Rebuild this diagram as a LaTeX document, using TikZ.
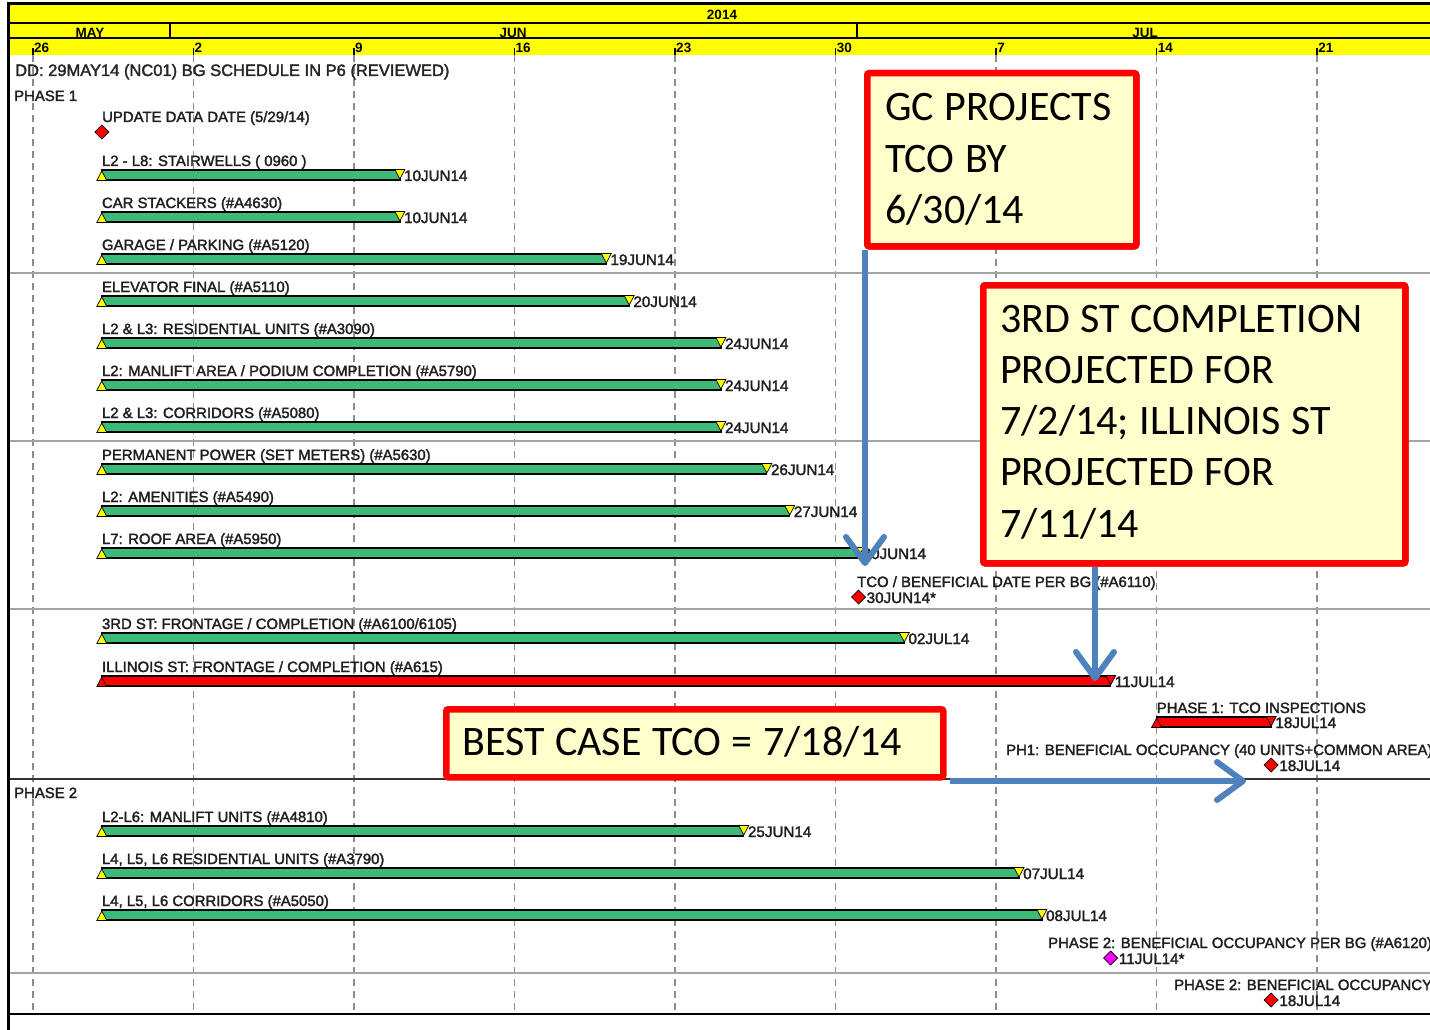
\documentclass[tikz,border=0pt]{standalone}
\usepackage{fontspec}
\setmainfont{Liberation Sans}
\newfontfamily\chartfont[FakeBold=2]{Liberation Sans}
\newfontfamily\calfont{Carlito}
\newcommand\calsp{\spaceskip=0.25em\relax}
\usetikzlibrary{arrows.meta,calc}
\definecolor{barg}{RGB}{60,186,120}
\definecolor{hdr}{RGB}{255,255,0}
\definecolor{gridg}{RGB}{140,140,140}
\definecolor{sepg}{RGB}{165,165,165}
\definecolor{calfill}{RGB}{255,255,204}
\definecolor{calred}{RGB}{255,0,0}
\definecolor{arrblue}{RGB}{79,129,189}
\definecolor{dmag}{RGB}{255,0,255}
\tikzset{
  lbl/.style={anchor=base west, inner sep=0pt, text=black!88, font=\chartfont\fontsize{14.9}{17}\selectfont},
  dlbl/.style={anchor=base west, inner sep=0pt, text=black!88, font=\chartfont\fontsize{15.2}{17}\selectfont},
  ttl/.style={anchor=base west, inner sep=0pt, text=black!85, font=\chartfont\fontsize{16.5}{18}\selectfont},
  hlbl/.style={inner sep=0pt, font=\bfseries\fontsize{13.5}{16}\selectfont},
  barsty/.style={draw=black, line width=1.2pt},
  mk/.style={draw=black, line width=0.7pt},
  gridl/.style={gridg, line width=1.2pt, dash pattern=on 7pt off 5pt},
  sepl/.style={sepg, line width=1.6pt},
  callout/.style={draw=calred, fill=calfill, line width=6.5pt, rounded corners=2pt, inner sep=0pt, anchor=north west},
  calltext/.style={anchor=base west, inner sep=0pt, align=left, text width=600pt, font=\calfont\fontsize{42}{51.3}\selectfont},
  bluearrow/.style={draw=arrblue, line width=6pt, -{Straight Barb[length=26pt, width=38pt, line width=6pt, round]}},
}
\newcommand\ganttbar[8]{%
  \node[lbl] (#1-l) at (#3,#2-9) {#5};
  \draw[barsty,fill=#7] (#3,#2-5) rectangle (#4,#2+5);
  \draw[mk,fill=#8] (#3-5,#2+5.5) -- (#3+5,#2+5.5) -- (#3,#2-4) -- cycle;
  \draw[mk,fill=#8] (#4-5,#2-5.5) -- (#4+5,#2-5.5) -- (#4,#2+4) -- cycle;
  \node[dlbl] (#1-d) at (#4+4,#2+6) {#6};
}
\newcommand\mstone[7]{%
  \node[lbl] (#1-l) at (#4,#3-10) {#5};
  \draw[mk,fill=#7] (#2-7,#3) -- (#2,#3-7) -- (#2+7,#3) -- (#2,#3+7) -- cycle;
  \node[dlbl] (#1-d) at (#2+8,#3+6) {#6};
}
\begin{document}
\begin{tikzpicture}[x=1pt,y=-1pt]
\useasboundingbox (0,0) rectangle (1430,1030);
\clip (0,0) rectangle (1430,1030);
\fill[white] (0,0) rectangle (1430,1030);
% header
\fill[hdr] (8,3) rectangle (1430,55);
\draw[black,line width=1.3pt] (8,23) -- (1430,23);
\draw[black,line width=1.3pt] (8,38) -- (1430,38);
\draw[black,line width=1.3pt] (170,23) -- (170,38);
\draw[black,line width=1.3pt] (857,23) -- (857,38);
\node[hlbl,anchor=base] (y2014) at (722,20) {2014};
\node[hlbl,anchor=base] (mmay) at (90,37.5) {MAY};
\node[hlbl,anchor=base] (mjun) at (513,37.5) {JUN};
\node[hlbl,anchor=base] (mjul) at (1145,37.5) {JUL};
\foreach \k/\d in {0/26,1/2,2/9,3/16,4/23,5/30,6/7,7/14,8/21}{
  \pgfmathsetmacro\xx{33+160.51*\k}
  \draw[gridl] (\xx,55) -- (\xx,1014);
  \draw[black,line width=1.3pt] (\xx,48) -- (\xx,55);
  \node[hlbl,anchor=base west] (day\k) at (\xx+1,53) {\d};
}
% separators
\foreach \yy in {273,441,609,973}{\draw[sepl] (8,\yy) -- (1430,\yy);}
\draw[black!80,line width=1.6pt] (8,779) -- (1430,779);
\draw[black,line width=2pt] (8,1014) -- (1430,1014);
% borders
\draw[black,line width=2.5pt] (8,3.5) -- (1430,3.5);
\draw[black,line width=3.5pt] (8.5,2) -- (8.5,1030);
% titles
\node[ttl] (title) at (15,76) {DD: 29MAY14 (NC01) BG SCHEDULE IN P6 (REVIEWED)};
\node[lbl] (ph1) at (14,101) {PHASE 1};
\node[lbl] (ph2) at (14,798) {PHASE 2};
% milestones and bars
\mstone{m0}{101.8}{132}{102}{UPDATE DATA DATE (5/29/14)}{}{red}
\ganttbar{s1}{175}{101.8}{399.9}{L2 - L8: STAIRWELLS ( 0960 )}{10JUN14}{barg}{hdr}
\ganttbar{s2}{217}{101.8}{399.9}{CAR STACKERS (\#A4630)}{10JUN14}{barg}{hdr}
\ganttbar{s3}{259}{101.8}{606.3}{GARAGE / PARKING (\#A5120)}{19JUN14}{barg}{hdr}
\ganttbar{s4}{301}{101.8}{629.2}{ELEVATOR FINAL (\#A5110)}{20JUN14}{barg}{hdr}
\ganttbar{s5}{343}{101.8}{720.9}{L2 \& L3: RESIDENTIAL UNITS (\#A3090)}{24JUN14}{barg}{hdr}
\ganttbar{s6}{385}{101.8}{720.9}{L2: MANLIFT AREA / PODIUM COMPLETION (\#A5790)}{24JUN14}{barg}{hdr}
\ganttbar{s7}{427}{101.8}{720.9}{L2 \& L3: CORRIDORS (\#A5080)}{24JUN14}{barg}{hdr}
\ganttbar{s8}{469}{101.8}{766.8}{PERMANENT POWER (SET METERS) (\#A5630)}{26JUN14}{barg}{hdr}
\ganttbar{s9}{511}{101.8}{789.7}{L2: AMENITIES (\#A5490)}{27JUN14}{barg}{hdr}
\ganttbar{s10}{553}{101.8}{858.5}{L7: ROOF AREA (\#A5950)}{30JUN14}{barg}{hdr}
\mstone{m1}{858.5}{597}{857}{TCO / BENEFICIAL DATE PER BG (\#A6110)}{30JUN14*}{red}
\ganttbar{s11}{638}{101.8}{904.3}{3RD ST: FRONTAGE / COMPLETION (\#A6100/6105)}{02JUL14}{barg}{hdr}
\ganttbar{s12}{681}{101.8}{1110.7}{ILLINOIS ST: FRONTAGE / COMPLETION (\#A615)}{11JUL14}{red}{red}
\ganttbar{s13}{722}{1156.6}{1271.2}{PHASE 1: TCO INSPECTIONS}{18JUL14}{red}{red}
\mstone{m2}{1271.2}{765}{1006}{PH1: BENEFICIAL OCCUPANCY (40 UNITS+COMMON AREA)}{18JUL14}{red}
\ganttbar{p1}{831}{101.8}{743.8}{L2-L6: MANLIFT UNITS (\#A4810)}{25JUN14}{barg}{hdr}
\ganttbar{p2}{873}{101.8}{1019.0}{L4, L5, L6 RESIDENTIAL UNITS (\#A3790)}{07JUL14}{barg}{hdr}
\ganttbar{p3}{915}{101.8}{1041.9}{L4, L5, L6 CORRIDORS (\#A5050)}{08JUL14}{barg}{hdr}
\mstone{m3}{1110.7}{958}{1048}{PHASE 2: BENEFICIAL OCCUPANCY PER BG (\#A6120)}{11JUL14*}{dmag}
\mstone{m4}{1271.2}{1000}{1174}{PHASE 2: BENEFICIAL OCCUPANCY}{18JUL14}{red}
% callout boxes
\node[callout, minimum width=269pt, minimum height=173pt] (gcbox) at (864,70) {};
\node[callout, minimum width=422pt, minimum height=278pt] (tdbox) at (980,282) {};
\node[callout, minimum width=497pt, minimum height=68pt] (bestbox) at (443,706) {};
\coordinate (a1) at (865,566);
\coordinate (a2) at (1095,681);
\coordinate (a3) at (1246,781);
\draw[bluearrow] (gcbox.south west -| a1) -- (a1);
\draw[bluearrow] (tdbox.south -| a2) -- (a2);
\draw[bluearrow] ($(bestbox.east |- a3)+(3,0)$) -- (a3);
\node[callout, minimum width=269pt, minimum height=173pt] (gcbox2) at (864,70) {};
\node[callout, minimum width=422pt, minimum height=278pt] (tdbox2) at (980,282) {};
\node[calltext] (gctext) at (885,121) {\calsp GC PROJECTS\\TCO BY\\6/30/14};
\node[calltext] (tdtext) at (1000,332) {\calsp 3RD ST COMPLETION\\PROJECTED FOR\\7/2/14; ILLINOIS ST\\PROJECTED FOR\\7/11/14};
\node[calltext] (besttext) at (462,755) {\calsp BEST CASE TCO = 7/18/14};
\end{tikzpicture}
\end{document}
